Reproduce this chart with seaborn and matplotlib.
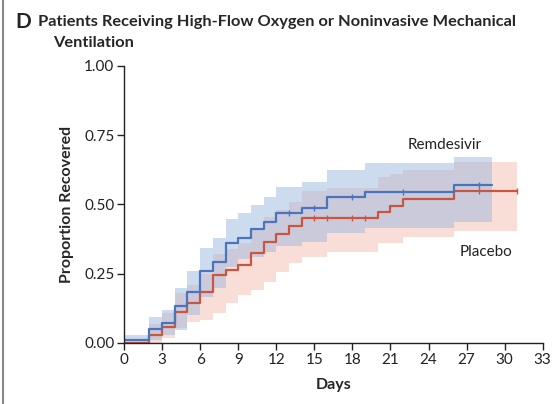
import numpy as np
import pandas as pd
import matplotlib
matplotlib.use("Agg")
import matplotlib.pyplot as plt
from matplotlib.lines import Line2D
import seaborn as sns

# ---- data ----
days_remdesivir = [0, 2, 3, 4, 5, 6, 7, 8, 9, 10, 11, 12, 14, 16, 19, 26, 29]
prop_remdesivir = [0.01, 0.049, 0.071, 0.134, 0.185, 0.26, 0.294, 0.36, 0.38, 0.41, 0.437, 0.468, 0.486, 0.526, 0.546, 0.569, 0.569]
upper_remdesivir = [0.03, 0.093, 0.12, 0.197, 0.26, 0.344, 0.378, 0.447, 0.468, 0.498, 0.526, 0.562, 0.582, 0.625, 0.649, 0.673, 0.673]
lower_remdesivir = [0.0, 0.01, 0.03, 0.047, 0.1, 0.167, 0.197, 0.275, 0.305, 0.31, 0.33, 0.35, 0.366, 0.396, 0.414, 0.438, 0.438]
censor_remdesivir = [13, 15, 18, 22, 28]

days_placebo = [0, 2, 3, 4, 5, 6, 7, 8, 9, 10, 11, 12, 13, 14, 16, 20, 21, 22, 26, 31]
prop_placebo = [0.0, 0.03, 0.059, 0.113, 0.146, 0.185, 0.245, 0.264, 0.28, 0.326, 0.366, 0.393, 0.422, 0.45, 0.45, 0.472, 0.495, 0.52, 0.549, 0.549]
upper_placebo = [0.005, 0.07, 0.11, 0.18, 0.21, 0.25, 0.32, 0.34, 0.36, 0.41, 0.456, 0.48, 0.51, 0.55, 0.56, 0.6, 0.61, 0.625, 0.652, 0.652]
lower_placebo = [0.0, 0.0, 0.017, 0.054, 0.077, 0.083, 0.11, 0.146, 0.173, 0.19, 0.22, 0.257, 0.288, 0.31, 0.33, 0.36, 0.36, 0.384, 0.405, 0.405]
censor_placebo = [15, 16, 18, 19, 28, 31]

x_ticks = [0, 3, 6, 9, 12, 15, 18, 21, 24, 27, 30, 33]
y_ticks = [0.0, 0.25, 0.5, 0.75, 1.0]
y_ticklabels = ["0.00", "0.25", "0.50", "0.75", "1.00"]

blue = "#4a74bb"
red = "#cc5541"
blue_fill = "#9db8e0"
red_fill = "#f0b6a4"

sns.set_style("ticks")
plt.rcParams["font.family"] = ["Lato", "DejaVu Sans"]

fig = plt.figure(figsize=(5.54, 4.04), dpi=100)
ax = fig.add_axes([124 / 554, 61 / 404, 418.7 / 554, 277 / 404])

df_r = pd.DataFrame({"day": days_remdesivir, "p": prop_remdesivir})
df_p = pd.DataFrame({"day": days_placebo, "p": prop_placebo})

ax.fill_between(days_placebo, lower_placebo, upper_placebo, step="post",
                color=red_fill, alpha=0.45, linewidth=0)
ax.fill_between(days_remdesivir, lower_remdesivir, upper_remdesivir, step="post",
                color=blue_fill, alpha=0.5, linewidth=0)

sns.lineplot(data=df_p, x="day", y="p", drawstyle="steps-post", color=red,
             linewidth=1.6, ax=ax)
sns.lineplot(data=df_r, x="day", y="p", drawstyle="steps-post", color=blue,
             linewidth=1.6, ax=ax)

def step_val(days, vals, t):
    idx = np.searchsorted(days, t, side="right") - 1
    return vals[idx]

ax.plot(censor_placebo, [step_val(days_placebo, prop_placebo, t) for t in censor_placebo],
        linestyle="none", marker="|", markersize=5, markeredgewidth=1.0, color=red)
ax.plot(censor_remdesivir, [step_val(days_remdesivir, prop_remdesivir, t) for t in censor_remdesivir],
        linestyle="none", marker="|", markersize=5, markeredgewidth=1.0, color=blue)

ax.text(25.3, 0.715, "Remdesivir", fontsize=11, ha="center", va="center", color="#222222")
ax.text(28.5, 0.33, "Placebo", fontsize=11, ha="center", va="center", color="#222222")

ax.set_xlim(0, 33)
ax.set_ylim(0, 1.0)
ax.set_xticks(x_ticks)
ax.set_xticklabels([str(t) for t in x_ticks], fontsize=11)
ax.set_yticks(y_ticks)
ax.set_yticklabels(y_ticklabels, fontsize=11)
ax.tick_params(axis="both", direction="out", length=5, width=1, colors="#222222", pad=2)
for s in ["top", "right"]:
    ax.spines[s].set_visible(False)
for s in ["left", "bottom"]:
    ax.spines[s].set_linewidth(1.0)
    ax.spines[s].set_color("#222222")
ax.spines["left"].set_bounds(0, 1.0)

ax.set_xlabel("Days", fontsize=11.5, fontweight="bold", labelpad=8)
ax.set_ylabel("Proportion Recovered", fontsize=11.5, fontweight="bold", labelpad=7)

fig.text(15 / 554, 1 - 22 / 404, "D", fontsize=15, fontweight="bold", va="center", ha="left")
fig.text(38 / 554, 1 - 22 / 404, "Patients Receiving High-Flow Oxygen or Noninvasive Mechanical",
         fontsize=11.8, fontweight="bold", va="center", ha="left")
fig.text(53 / 554, 1 - 43 / 404, "Ventilation", fontsize=11.8, fontweight="bold",
         va="center", ha="left")

fig.add_artist(Line2D([3 / 554, 3 / 554], [0, 1], color="#888888", linewidth=1.5,
                      transform=fig.transFigure))

fig.savefig("out.png", dpi=100)
